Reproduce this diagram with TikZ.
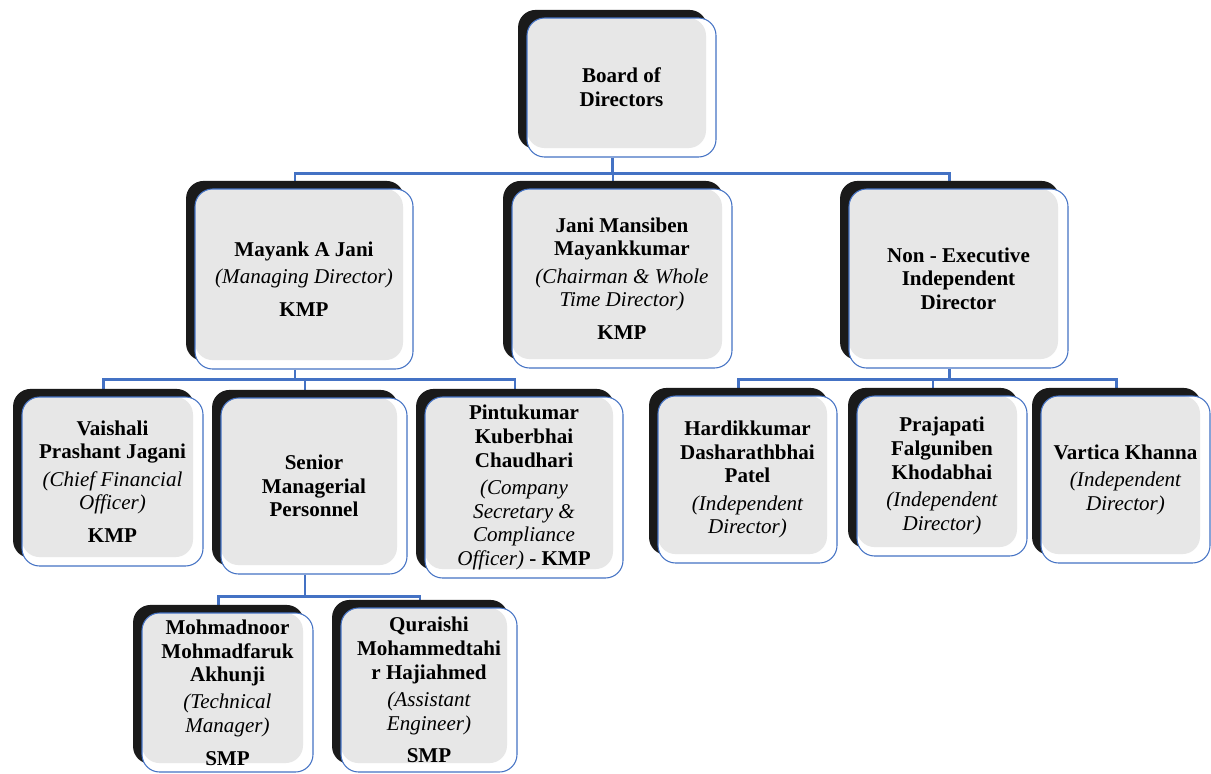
\documentclass[tikz,border=0pt]{standalone}
\usepackage{fontspec}
\setmainfont{Liberation Serif}
\usetikzlibrary{shadows,backgrounds,calc}
\definecolor{boxblue}{HTML}{4472C4}
\definecolor{boxgray}{HTML}{E7E7E7}
\definecolor{boxshade}{HTML}{1A1A1A}
\newcommand{\rolename}[1]{{\mdseries\itshape #1}}
\begin{document}
\begin{tikzpicture}[x=0.57pt,y=-0.57pt,
  boxsize/.style 2 args={minimum width=#1*0.57pt, minimum height=#2*0.57pt}]
\tikzstyle{orgbox} = [draw=boxblue, line width=0.6pt, fill=white, rounded corners=10pt,
  align=center, inner sep=2pt, font=\fontsize{12}{13.5}\selectfont\bfseries,
  general shadow={fill=boxshade, shadow xshift=-5.1pt, shadow yshift=4.6pt},
  path picture={\fill[boxgray, rounded corners=10pt] (path picture bounding box.north west)
    rectangle ([xshift=-5.7pt, yshift=5.1pt]path picture bounding box.south east);}] % box with dark shadow
\tikzstyle{bus} = [draw=boxblue, line width=1.3pt] % connector style
\useasboundingbox (0,0) rectangle (1211,773);

% top
\node[orgbox, boxsize={189}{139}] (board) at (621.5,87.5) {Board of\\Directors};
% first level
\node[orgbox, boxsize={218}{180}] (mayank) at (304,279)
  {Mayank A Jani\\[2pt]\rolename{(Managing Director)}\\[5pt]KMP};
\node[orgbox, boxsize={220}{179}] (jani) at (622,278.5)
  {Jani Mansiben\\Mayankkumar\\[2pt]\rolename{(Chairman \& Whole}\\\rolename{Time Director)}\\[5pt]KMP};
\node[orgbox, boxsize={219}{179}] (nonexec) at (958.5,278.5)
  {Non - Executive\\Independent\\Director};
% under the managing director
\node[orgbox, boxsize={181}{169}] (vaishali) at (112.5,481.5)
  {Vaishali\\Prashant Jagani\\[2pt]\rolename{(Chief Financial}\\\rolename{Officer)}\\[5pt]KMP};
\node[orgbox, boxsize={186}{176}] (senior) at (314,486)
  {Senior\\Managerial\\Personnel};
\node[orgbox, boxsize={198}{181}] (pintu) at (524,487.5)
  {Pintukumar\\Kuberbhai\\Chaudhari\\[2pt]\rolename{(Company}\\\rolename{Secretary \&}\\\rolename{Compliance}\\\rolename{Officer)} - KMP};
% independent directors
\node[orgbox, boxsize={179}{167}] (hardik) at (747.5,479.5)
  {Hardikkumar\\Dasharathbhai\\Patel\\[2pt]\rolename{(Independent}\\\rolename{Director)}};
\node[orgbox, boxsize={170}{160}] (praja) at (942,476)
  {Prajapati\\Falguniben\\Khodabhai\\[2pt]\rolename{(Independent}\\\rolename{Director)}};
\node[orgbox, boxsize={169}{167}] (vartica) at (1125.5,479.5)
  {Vartica Khanna\\[2pt]\rolename{(Independent}\\\rolename{Director)}};
% senior managerial personnel
\node[orgbox, boxsize={171}{159}] (mohmad) at (227.5,692.5)
  {Mohmadnoor\\Mohmadfaruk\\Akhunji\\[2pt]\rolename{(Technical}\\\rolename{Manager)}\\[5pt]SMP};
\node[orgbox, boxsize={176}{164}] (quraishi) at (429,690)
  {Quraishi\\Mohammedtahi\\r Hajiahmed\\[2pt]\rolename{(Assistant}\\\rolename{Engineer)}\\[5pt]SMP};

% connectors
\begin{scope}[on background layer]
\draw[bus] ($(board.south)+(-9,0)$) -- ++(0,16) coordinate (boardbus);
\foreach \c in {mayank,jani,nonexec}
  \draw[bus] (boardbus) -| ($(\c.north)+(-9,0)$);
\draw[bus] ($(mayank.south)+(-9,0)$) -- ++(0,10) coordinate (mayankbus);
\foreach \c in {vaishali,senior,pintu}
  \draw[bus] (mayankbus) -| ($(\c.north)+(-9,0)$);
\draw[bus] ($(nonexec.south)+(-9,0)$) -- ++(0,11) coordinate (nonexecbus);
\foreach \c in {hardik,praja,vartica}
  \draw[bus] (nonexecbus) -| ($(\c.north)+(-9,0)$);
\draw[bus] ($(senior.south)+(-9,0)$) -- ++(0,22) coordinate (seniorbus);
\foreach \c in {mohmad,quraishi}
  \draw[bus] (seniorbus) -| ($(\c.north)+(-9,0)$);
\end{scope}
\end{tikzpicture}
\end{document}
